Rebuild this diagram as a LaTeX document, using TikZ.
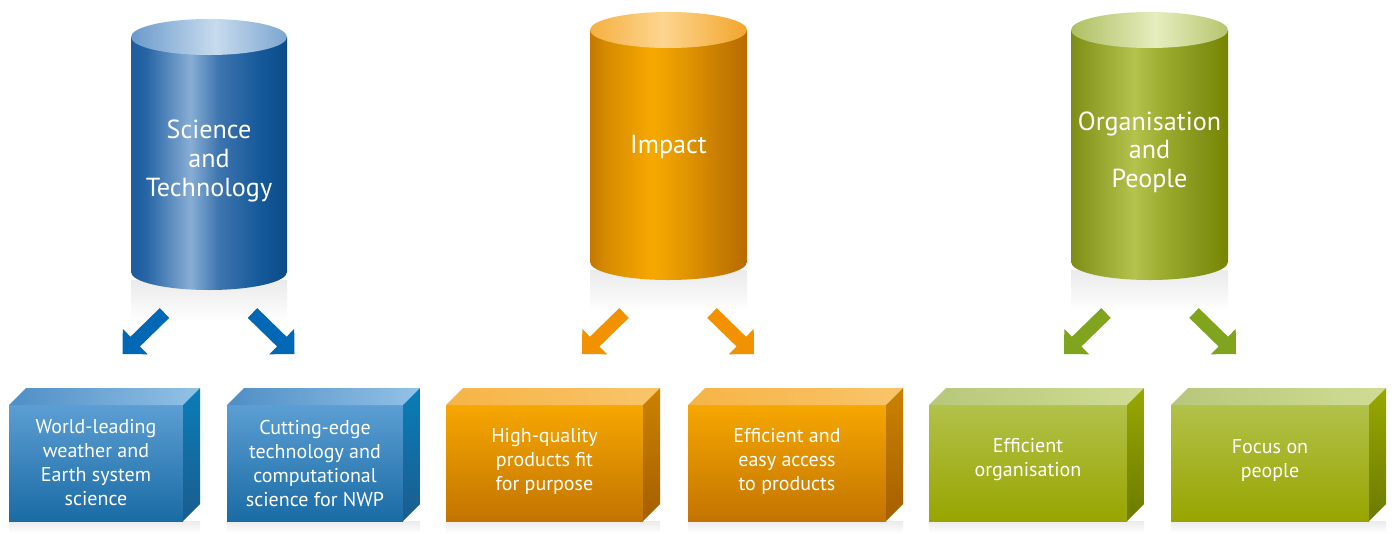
\documentclass[tikz,border=0pt]{standalone}
\usepackage{fontspec}
\setmainfont{PT Sans}
\usetikzlibrary{calc}
% blue
\definecolor{bL}{HTML}{1B5C9C}\definecolor{bA}{HTML}{2766A6}\definecolor{bH}{HTML}{88ADD4}
\definecolor{bB}{HTML}{3E75AF}\definecolor{bC}{HTML}{16599A}\definecolor{bR}{HTML}{0B4C88}
\definecolor{btL}{HTML}{6A9ACB}\definecolor{btH}{HTML}{C8DBEE}\definecolor{btR}{HTML}{7BA5D0}
\definecolor{barrow}{HTML}{0068B4}
\definecolor{bfT}{HTML}{5C9ED3}\definecolor{bfB}{HTML}{1A6BA5}
\definecolor{btopL}{HTML}{4E8EC6}\definecolor{btopM}{HTML}{A6CFF0}\definecolor{btopR}{HTML}{93C2E6}
\definecolor{bsT}{HTML}{0A7DB8}\definecolor{bsB}{HTML}{1B5C8E}
% orange
\definecolor{oL}{HTML}{C47800}\definecolor{oA}{HTML}{D68B00}\definecolor{oH}{HTML}{F7A900}
\definecolor{oB}{HTML}{E29600}\definecolor{oC}{HTML}{C77D00}\definecolor{oR}{HTML}{B86C00}
\definecolor{otL}{HTML}{F5B040}\definecolor{otH}{HTML}{FDD590}\definecolor{otR}{HTML}{F2A52C}
\definecolor{oarrow}{HTML}{F39200}
\definecolor{ofT}{HTML}{F6A700}\definecolor{ofB}{HTML}{C27400}
\definecolor{otopL}{HTML}{F6B446}\definecolor{otopM}{HTML}{FCD590}\definecolor{otopR}{HTML}{F9C46A}
\definecolor{osT}{HTML}{CB8200}\definecolor{osB}{HTML}{A55F00}
% green
\definecolor{gL}{HTML}{7D8C15}\definecolor{gA}{HTML}{8C9B22}\definecolor{gH}{HTML}{B4C24E}
\definecolor{gB}{HTML}{9AAA2C}\definecolor{gC}{HTML}{84941A}\definecolor{gR}{HTML}{768500}
\definecolor{gtL}{HTML}{AEBF62}\definecolor{gtH}{HTML}{E6EDBF}\definecolor{gtR}{HTML}{B6C56E}
\definecolor{garrow}{HTML}{80A41E}
\definecolor{gfT}{HTML}{B2C14A}\definecolor{gfB}{HTML}{98A500}
\definecolor{gtopL}{HTML}{B7C77A}\definecolor{gtopM}{HTML}{E5EDBC}\definecolor{gtopR}{HTML}{D0DC94}
\definecolor{gsT}{HTML}{98A800}\definecolor{gsB}{HTML}{6C7A00}

\pgfdeclarehorizontalshading{cylblue}{100bp}{color(0bp)=(bL); color(25bp)=(bL); color(30bp)=(bA); color(44bp)=(bH); color(53bp)=(bB); color(66bp)=(bC); color(75bp)=(bR); color(100bp)=(bR)}
\pgfdeclarehorizontalshading{cylorange}{100bp}{color(0bp)=(oL); color(25bp)=(oL); color(30bp)=(oA); color(45bp)=(oH); color(55bp)=(oB); color(66bp)=(oC); color(75bp)=(oR); color(100bp)=(oR)}
\pgfdeclarehorizontalshading{cylgreen}{100bp}{color(0bp)=(gL); color(25bp)=(gL); color(30bp)=(gA); color(45bp)=(gH); color(55bp)=(gB); color(66bp)=(gC); color(75bp)=(gR); color(100bp)=(gR)}
\pgfdeclarehorizontalshading{topblue}{100bp}{color(0bp)=(btL); color(25bp)=(btL); color(52bp)=(btH); color(75bp)=(btR); color(100bp)=(btR)}
\pgfdeclarehorizontalshading{toporange}{100bp}{color(0bp)=(otL); color(25bp)=(otL); color(48bp)=(otH); color(75bp)=(otR); color(100bp)=(otR)}
\pgfdeclarehorizontalshading{topgreen}{100bp}{color(0bp)=(gtL); color(25bp)=(gtL); color(52bp)=(gtH); color(75bp)=(gtR); color(100bp)=(gtR)}

\tikzset{
  cyltext/.style={text=white, align=center, font=\fontsize{19.6}{21.5}\selectfont},
  boxtext/.style={text=white, align=center, font=\fontsize{15}{18}\selectfont},
  refl/.style={top color=black!8, bottom color=white, draw=none},
}

\newcommand\blockarr[3]{%
  \coordinate (hb) at ($(#2)!13.3pt!(#1)$);
  \fill[#3] (#2) -- ($(hb)!13.3pt!90:(#2)$) -- ($(hb)!5.1pt!90:(#2)$)
     -- ($(#1)!5.1pt!90:(#2)$) -- ($(#1)!5.1pt!-90:(#2)$)
     -- ($(hb)!5.1pt!-90:(#2)$) -- ($(hb)!13.3pt!-90:(#2)$) -- cycle;}

% cylinder: #1 left x, #2 right x, #3 top centre y, #4 bottom centre y, #5 body shading, #6 top shading
\newcommand\cylshape[6]{%
  \fill[refl] (#1,{#4+8}) rectangle (#2,{#4+50});
  \shade[shading=#5] (#1,#3) -- (#1,#4) arc[start angle=180,end angle=0,x radius={(#2-#1)/2},y radius=18] -- (#2,#3) -- cycle;
  \shade[shading=#6] ({(#1+#2)/2},#3) ellipse[x radius={(#2-#1)/2},y radius=18];}

\begin{document}
\begin{tikzpicture}[x=0.75pt,y=-0.75pt]
\useasboundingbox[fill=white] (0,0) rectangle (1394,533);

% cylinders
\cylshape{131}{287}{37}{272}{cylblue}{topblue}
\cylshape{590}{747}{30}{262}{cylorange}{toporange}
\cylshape{1071}{1228}{30}{262}{cylgreen}{topgreen}

\node[cyltext] (st) at (209,161) {Science\\and\\Technology};
\node[cyltext] (im) at (668.5,147) {Impact};
\node[cyltext] (op) at (1149.5,152) {Organisation\\and\\People};

% arrows
\foreach \c/\n in {208.5/b, 668/o, 1150/g}{
  \coordinate (\n tl) at ({\c-44},313);
  \coordinate (\n pl) at ({\c-86},354);
  \coordinate (\n tr) at ({\c+44},313);
  \coordinate (\n pr) at ({\c+86},354);
}
\blockarr{btl}{bpl}{barrow}
\blockarr{btr}{bpr}{barrow}
\blockarr{otl}{opl}{oarrow}
\blockarr{otr}{opr}{oarrow}
\blockarr{gtl}{gpl}{garrow}
\blockarr{gtr}{gpr}{garrow}

% boxes
\foreach \xa/\xb/\p in {9/183/b, 227/403/b, 446/643/o, 688/886/o, 929/1127/g, 1171/1369/g}{
  \fill[refl] (\xa,521) rectangle ({\xb+17},533);
  \shade[top color=\p fT, bottom color=\p fB] (\xa,405) rectangle (\xb,521);
  \shade[left color=\p topL, middle color=\p topM, right color=\p topR]
     (\xa,405) -- ({\xa+17},388) -- ({\xb+17},388) -- (\xb,405) -- cycle;
  \shade[top color=\p sT, bottom color=\p sB]
     (\xb,405) -- ({\xb+17},388) -- ({\xb+17},504) -- (\xb,521) -- cycle;
}

\node[boxtext] (b1) at (96,463) {World-leading\\weather and\\Earth system\\science};
\node[boxtext] (b2) at (315,463) {Cutting-edge\\technology and\\computational\\science for NWP};
\node[boxtext] (b3) at (544.5,461) {High-quality\\products fit\\for purpose};
\node[boxtext] (b4) at (787,461) {Efficient and\\easy access\\to products};
\node[boxtext] (b5) at (1028,460) {Efficient\\organisation};
\node[boxtext] (b6) at (1270,460) {Focus on\\people};
\end{tikzpicture}
\end{document}
